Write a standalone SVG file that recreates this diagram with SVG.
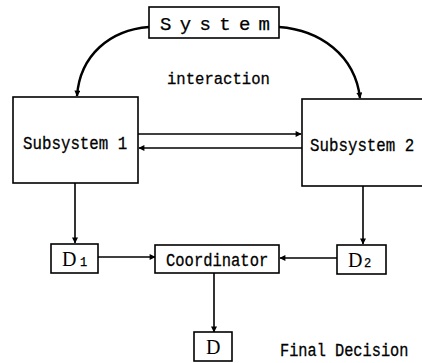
<svg xmlns="http://www.w3.org/2000/svg" width="422" height="363" viewBox="0 0 422 363">
<style>
.box{fill:#fff;stroke:#000;stroke-width:1.6}
.ln{fill:none;stroke:#000;stroke-width:1.6}
.cv{fill:none;stroke:#000;stroke-width:2.4}
.t{font-family:"Liberation Mono","DejaVu Sans Mono",monospace;fill:#000;stroke:#000;stroke-width:0.25}
.d{font-family:"Liberation Serif","DejaVu Serif",serif;fill:#000}
</style>
<defs>
<marker id="ah" viewBox="0 0 10 10" refX="9" refY="5" markerWidth="7" markerHeight="6" markerUnits="userSpaceOnUse" orient="auto">
<path d="M0,0 L10,5 L0,10 z" fill="#000"/>
</marker>
</defs>
<g id="connectors">
<path class="cv" d="M149,27 C110,30 80,55 77,96" marker-end="url(#ah)"/>
<path class="cv" d="M279,27 C320,30 355,55 360,98" marker-end="url(#ah)"/>
<path class="ln" d="M138,134 H301" marker-end="url(#ah)"/>
<path class="ln" d="M302,148 H139" marker-end="url(#ah)"/>
<path class="ln" d="M75,183 V243" marker-end="url(#ah)"/>
<path class="ln" d="M363,186 V244" marker-end="url(#ah)"/>
<path class="ln" d="M98,257 H155" marker-end="url(#ah)"/>
<path class="ln" d="M337,258 H280" marker-end="url(#ah)"/>
<path class="ln" d="M214,273 V332" marker-end="url(#ah)"/>
</g>
<g id="system">
<rect class="box" x="149" y="7" width="130" height="31"/>
<text class="t" x="160" y="30" font-size="19" textLength="110" lengthAdjust="spacing">System</text>
</g>
<g id="subsystem1">
<rect class="box" x="13" y="97" width="125" height="86"/>
<text class="t" transform="translate(23,149) scale(1,1.15)" font-size="15.8">Subsystem 1</text>
</g>
<g id="subsystem2">
<rect class="box" x="302" y="99" width="124" height="87"/>
<text class="t" transform="translate(310,151) scale(1,1.15)" font-size="15.8">Subsystem 2</text>
</g>
<g id="interaction-label">
<text class="t" transform="translate(167,84) scale(1,1.1)" font-size="15.6">interaction</text>
</g>
<g id="d1">
<rect class="box" x="51" y="244" width="47" height="29"/>
<text class="d" x="62" y="266" font-size="20">D</text>
<text class="t" x="80" y="266" font-size="12">1</text>
</g>
<g id="coordinator">
<rect class="box" x="155" y="245" width="124" height="28"/>
<text class="t" transform="translate(166,266) scale(1,1.15)" font-size="15.5">Coordinator</text>
</g>
<g id="d2">
<rect class="box" x="337" y="245" width="49" height="29"/>
<text class="d" x="348" y="267" font-size="20">D</text>
<text class="t" x="364" y="267" font-size="12">2</text>
</g>
<g id="d">
<rect class="box" x="194" y="332" width="38" height="29"/>
<text class="d" x="206" y="354" font-size="20">D</text>
</g>
<g id="final-label">
<text class="t" transform="translate(280,356) scale(1,1.15)" font-size="15.3">Final Decision</text>
</g>
</svg>
